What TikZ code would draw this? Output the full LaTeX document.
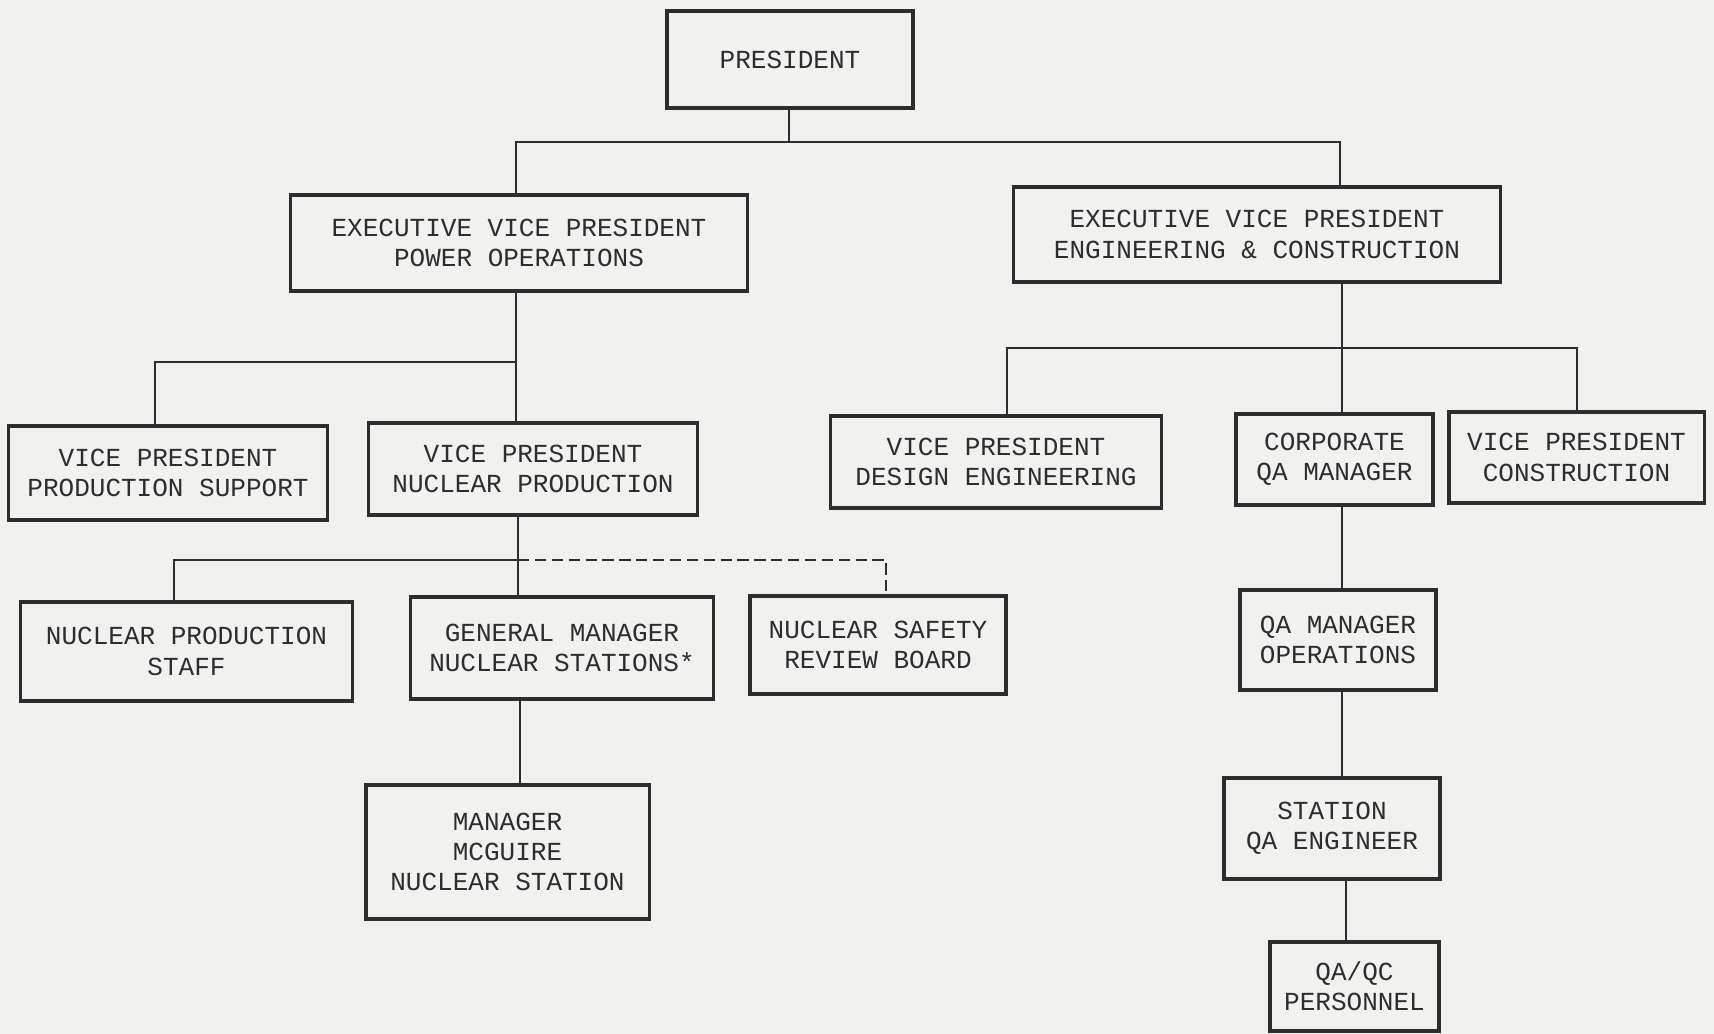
\documentclass[tikz,border=0pt]{standalone}
\usepackage{fontspec}
\setmonofont{Liberation Mono}
\definecolor{paper}{RGB}{241,241,240}
\definecolor{ink}{RGB}{45,45,45}
\begin{document}
\begin{tikzpicture}[x=0.01cm,y=-0.01cm,
  orgbox/.style={draw=ink,line width=0.9pt,inner sep=0pt,align=center,text=ink,
    font=\ttfamily\fontsize{7.4}{8.6}\selectfont},
  conn/.style={draw=ink,line width=0.6pt}]
\fill[paper] (0,0) rectangle (1714,1034);
\useasboundingbox (0,0) rectangle (1714,1034);
% boxes
\node[orgbox,minimum width=2.46cm,minimum height=0.97cm] (pres) at (790,59.5) {PRESIDENT};
\node[orgbox,minimum width=4.56cm,minimum height=0.96cm] (evpPO) at (519,243) {EXECUTIVE VICE PRESIDENT\\POWER OPERATIONS};
\node[orgbox,minimum width=4.86cm,minimum height=0.95cm] (evpEC) at (1257,234.5) {EXECUTIVE VICE PRESIDENT\\ENGINEERING \& CONSTRUCTION};
\node[orgbox,minimum width=3.18cm,minimum height=0.94cm] (vpPS) at (168,473) {VICE PRESIDENT\\PRODUCTION SUPPORT};
\node[orgbox,minimum width=3.28cm,minimum height=0.92cm] (vpNP) at (533,469) {VICE PRESIDENT\\NUCLEAR PRODUCTION};
\node[orgbox,minimum width=3.30cm,minimum height=0.92cm] (vpDE) at (996,462) {VICE PRESIDENT\\DESIGN ENGINEERING};
\node[orgbox,minimum width=1.97cm,minimum height=0.91cm] (cqa) at (1334.5,459.5) {CORPORATE\\QA MANAGER};
\node[orgbox,minimum width=2.55cm,minimum height=0.91cm] (vpCon) at (1576.5,457.5) {VICE PRESIDENT\\CONSTRUCTION};
\node[orgbox,minimum width=3.31cm,minimum height=0.99cm] (nps) at (186.5,651.5) {NUCLEAR PRODUCTION\\STAFF};
\node[orgbox,minimum width=3.02cm,minimum height=1.02cm] (gm) at (562,648) {GENERAL MANAGER\\NUCLEAR STATIONS*};
\node[orgbox,minimum width=2.56cm,minimum height=0.98cm] (nsrb) at (878,645) {NUCLEAR SAFETY\\REVIEW BOARD};
\node[orgbox,minimum width=1.96cm,minimum height=1.00cm] (qamo) at (1338,640) {QA MANAGER\\OPERATIONS};
\node[orgbox,minimum width=2.83cm,minimum height=1.34cm] (mgr) at (507.5,852) {MANAGER\\MCGUIRE\\NUCLEAR STATION};
\node[orgbox,minimum width=2.16cm,minimum height=1.01cm] (sqae) at (1332,828.5) {STATION\\QA ENGINEER};
\node[orgbox,minimum width=1.69cm,minimum height=0.89cm] (qaqc) at (1354.5,986.5) {QA/QC\\PERSONNEL};
% junctions
\coordinate (topJ) at (789,142);
\coordinate (poJ) at (516,362);
\coordinate (ecJ) at (1342,348);
\coordinate (npJ) at (518,560);
% connectors
\draw[conn] (pres.south -| topJ) -- (topJ);
\draw[conn] (evpPO.north -| 516,0) |- (topJ) -| (evpEC.north -| 1340,0);
\draw[conn] (evpPO.south -| poJ) -- (vpNP.north -| poJ);
\draw[conn] (poJ) -| (vpPS.north -| 155,0);
\draw[conn] (evpEC.south -| ecJ) -- (cqa.north -| ecJ);
\draw[conn] (vpDE.north -| 1007,0) |- (ecJ) -| (vpCon.north -| 1577,0);
\draw[conn] (vpNP.south -| npJ) -- (gm.north -| npJ);
\draw[conn] (npJ) -| (nps.north -| 174,0);
\draw[conn,dash pattern=on 3.2pt off 1.6pt] (npJ) -| (nsrb.north -| 886,0);
\draw[conn] (gm.south -| 520,0) -- (mgr.north -| 520,0);
\draw[conn] (cqa.south -| ecJ) -- (qamo.north -| ecJ);
\draw[conn] (qamo.south -| ecJ) -- (sqae.north -| ecJ);
\draw[conn] (sqae.south -| 1346,0) -- (qaqc.north -| 1346,0);
\end{tikzpicture}
\end{document}
